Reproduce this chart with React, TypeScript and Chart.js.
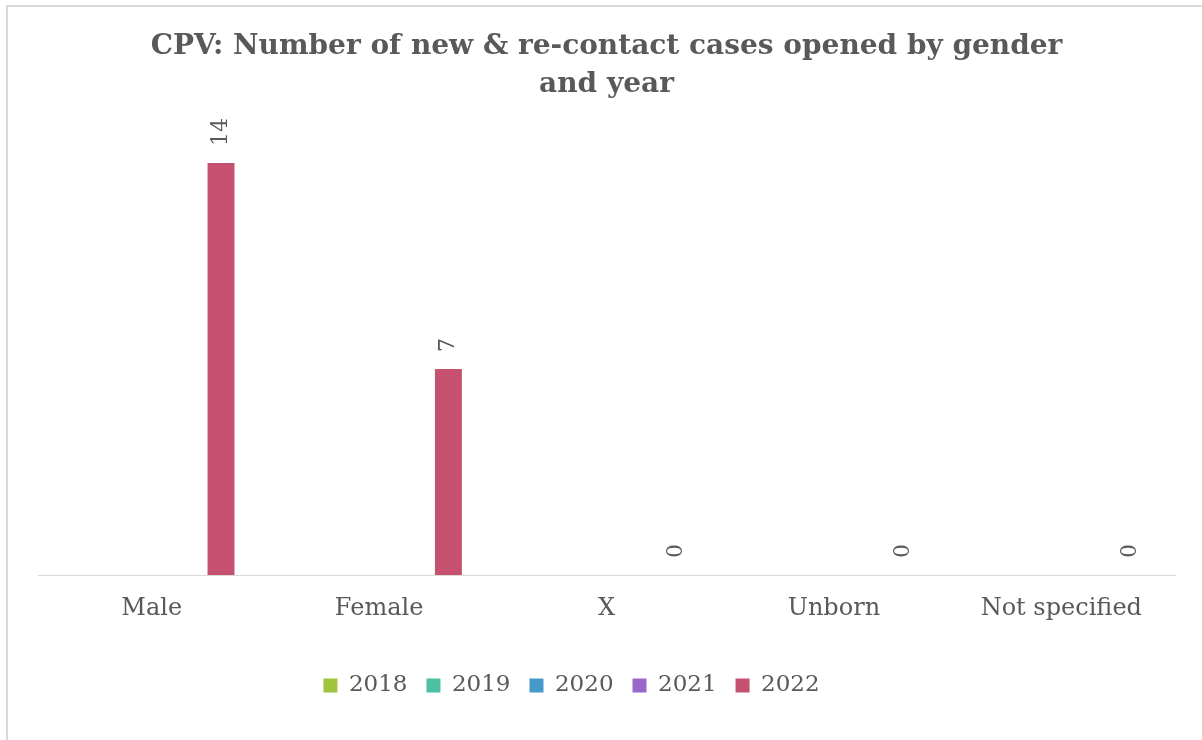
import React, { useEffect, useRef } from "react";
import { Chart, registerables } from "chart.js";

Chart.register(...registerables);

const categories = ["Male", "Female", "X", "Unborn", "Not specified"];
const seriesNames = ["2018", "2019", "2020", "2021", "2022"];
const values2018: (number | null)[] = [null, null, null, null, null];
const values2019: (number | null)[] = [null, null, null, null, null];
const values2020: (number | null)[] = [null, null, null, null, null];
const values2021: (number | null)[] = [null, null, null, null, null];
const values2022: (number | null)[] = [14, 7, 0, 0, 0];
const seriesColors = ["#A0C43E", "#4DBFA3", "#4799CC", "#9966CC", "#C5506F"];
const titleLines = ["CPV: Number of new & re-contact cases opened by gender", "and year"];

const FONT = "'DejaVu Serif', serif";
const TEXT = "#595959";

const frame = {
  id: "frame",
  beforeDraw(chart: any) {
    const ctx = chart.ctx;
    ctx.save();
    ctx.fillStyle = "#ffffff";
    ctx.fillRect(0, 0, chart.width, chart.height);
    ctx.strokeStyle = "#d9d9d9";
    ctx.lineWidth = 2;
    ctx.beginPath();
    ctx.moveTo(7, chart.height);
    ctx.lineTo(7, 6);
    ctx.lineTo(chart.width, 6);
    ctx.stroke();
    ctx.restore();
  },
};

const legendShift = {
  id: "legendShift",
  afterLayout(chart: any) {
    const lg = chart.legend;
    if (lg) {
      lg.left -= 35;
      lg.right -= 35;
    }
  },
};

const barLabels = {
  id: "barLabels",
  afterDatasetsDraw(chart: any) {
    const ctx = chart.ctx;
    ctx.save();
    ctx.font = `22px ${FONT}`;
    ctx.fillStyle = TEXT;
    ctx.textAlign = "left";
    ctx.textBaseline = "middle";
    chart.data.datasets.forEach((ds: any, i: number) => {
      const meta = chart.getDatasetMeta(i);
      meta.data.forEach((bar: any, j: number) => {
        const v = ds.data[j];
        if (v === null || v === undefined) return;
        ctx.save();
        ctx.translate(bar.x, bar.y - 17);
        ctx.rotate(-Math.PI / 2);
        ctx.fillText(String(v), 0, 0);
        ctx.restore();
      });
    });
    ctx.restore();
  },
};

export default function App() {
  const ref = useRef<HTMLCanvasElement | null>(null);
  useEffect(() => {
    if (!ref.current) return;
    const all = [values2018, values2019, values2020, values2021, values2022];
    const chart = new Chart(ref.current, {
      type: "bar",
      data: {
        labels: categories,
        datasets: seriesNames.map((name, i) => ({
          label: name,
          data: all[i],
          backgroundColor: seriesColors[i],
          borderWidth: 0,
          categoryPercentage: 0.762,
          barPercentage: 0.777,
        })),
      },
      options: {
        animation: false,
        responsive: false,
        devicePixelRatio: 1,
        layout: { padding: { left: 38, right: 27, top: 0, bottom: 33 } },
        scales: {
          x: {
            grid: { display: false, drawTicks: false },
            border: { display: true, color: "#d9d9d9", width: 1 },
            ticks: { color: TEXT, font: { family: FONT, size: 24 }, padding: 19 },
            afterFit: (scale: any) => {
              scale.height = 80;
            },
          },
          y: { display: false, min: 0, max: 16 },
        },
        plugins: {
          title: {
            display: true,
            text: titleLines,
            color: TEXT,
            font: { family: FONT, size: 28, weight: "bold", lineHeight: 1.36 },
            padding: { top: 28, bottom: 0 },
          },
          legend: {
            position: "bottom",
            labels: {
              color: TEXT,
              font: { family: FONT, size: 23 },
              boxWidth: 14,
              boxHeight: 14,
              padding: 19,
            },
          },
          tooltip: { enabled: false },
        },
      },
      plugins: [frame, legendShift, barLabels],
    });
    return () => chart.destroy();
  }, []);
  return (
    <div style={{ position: "fixed", left: 0, top: 0, width: 1202, height: 740, background: "#fff" }}>
      <canvas ref={ref} width={1202} height={740} />
    </div>
  );
}
